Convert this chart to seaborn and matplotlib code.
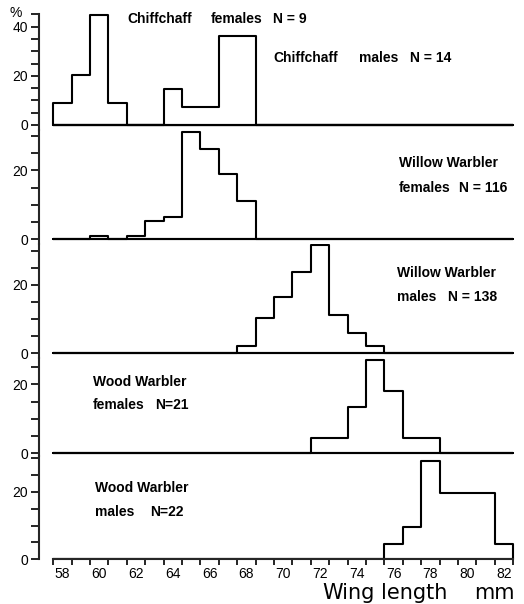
import numpy as np
import pandas as pd
import matplotlib
matplotlib.use("Agg")
import matplotlib.pyplot as plt
import seaborn as sns

# ---------------- data (wing length bin centre, mm ; percentage) ----------------
cc_f_len = [58, 59, 60, 61]
cc_f_pct = [8.8, 20.4, 44.7, 8.8]
cc_m_len = [64, 65, 66, 67, 68]
cc_m_pct = [14.5, 7.4, 7.4, 36.3, 36.3]
ww_f_len = [60, 62, 63, 64, 65, 66, 67, 68]
ww_f_pct = [0.9, 0.9, 5.3, 6.4, 31.1, 26.1, 18.9, 11.0]
ww_m_len = [68, 69, 70, 71, 72, 73, 74, 75]
ww_m_pct = [2.0, 10.2, 16.4, 23.8, 31.6, 11.3, 5.9, 2.0]
wd_f_len = [72, 73, 74, 75, 76, 77, 78]
wd_f_pct = [4.4, 4.4, 13.4, 27.0, 18.0, 4.4, 4.4]
wd_m_len = [76, 77, 78, 79, 80, 81, 82]
wd_m_pct = [4.5, 9.6, 29.0, 19.5, 19.5, 19.5, 4.5]

x_tick_labels = [58, 60, 62, 64, 66, 68, 70, 72, 74, 76, 78, 80, 82]
x_label = ["Wing", "length", "mm"]

panel_series = [
    [(cc_f_len, cc_f_pct), (cc_m_len, cc_m_pct)],
    [(ww_f_len, ww_f_pct)],
    [(ww_m_len, ww_m_pct)],
    [(wd_f_len, wd_f_pct)],
    [(wd_m_len, wd_m_pct)],
]
panel_tick_max = [45, 30, 30, 25, 30]
panel_labels = [[0, 20, 40], [0, 20], [0, 20], [0, 20], [0, 20]]

annotations = [
    ("Chiffchaff", 127, 19), ("females", 211, 19), ("N = 9", 273, 19),
    ("Chiffchaff", 273, 58), ("males", 359, 58), ("N = 14", 410, 58),
    ("Willow Warbler", 399, 163), ("females", 399, 188), ("N = 116", 459, 188),
    ("Willow Warbler", 397, 273), ("males", 397, 297), ("N = 138", 448, 297),
    ("Wood Warbler", 93, 382), ("females", 93, 405), ("N=21", 155, 405),
    ("Wood Warbler", 95, 488), ("males", 95, 512), ("N=22", 150, 512),
]

# ---------------- layout (pixels) ----------------
W, H = 524, 604
# zero line y, px per percent, top y, bottom y
panels_px = [
    (125.0, 2.46, 12.0, 130.0),
    (239.3, 3.45, 130.0, 244.0),
    (353.3, 3.42, 244.0, 358.0),
    (453.3, 3.45, 358.0, 455.5),
    (559.3, 3.38, 455.5, 559.3),
]
left_px, right_px = 39.3, 520.0
x0_px, ppmm = 53.3, 18.4
xmin = 57.5 - (x0_px - left_px) / ppmm
xmax = 57.5 + (right_px - x0_px) / ppmm
edges = [57.5 + k for k in range(26)]

sns.set_theme(style="ticks")
plt.rcParams["font.family"] = ["Liberation Sans", "DejaVu Sans"]
plt.rcParams["axes.linewidth"] = 1.5

fig = plt.figure(figsize=(W / 100, H / 100), dpi=100)
fig.patch.set_facecolor("white")

LW = 1.5
for i, (zero, ppp, top, bot) in enumerate(panels_px):
    ax = fig.add_axes([left_px / W, 1 - bot / H, (right_px - left_px) / W, (bot - top) / H])
    ax.set_facecolor("none")
    for xs, ws in panel_series[i]:
        df = pd.DataFrame({"length": xs, "pct": ws})
        sns.histplot(data=df, x="length", weights="pct", bins=edges, element="step",
                     fill=True, facecolor="white", edgecolor="black", linewidth=LW,
                     alpha=1, ax=ax)
    ylo = -(bot - zero) / ppp
    yhi = (zero - top) / ppp
    ax.set_xlim(xmin, xmax)
    ax.set_ylim(ylo, yhi)
    ax.set_xlabel("")
    ax.set_ylabel("")
    for s in ["top", "right"]:
        ax.spines[s].set_visible(False)
    ax.spines["left"].set_linewidth(LW)
    yt = list(range(0, panel_tick_max[i] + 1, 5))
    ax.set_yticks(yt, labels=[str(t) if t in panel_labels[i] else "" for t in yt])
    ax.tick_params(axis="y", direction="out", length=5.5, width=1.2, pad=2.5,
                   labelsize=10, colors="black")
    if i == 0:
        ax.spines["left"].set_bounds(ylo, panel_tick_max[i])
    if i < 4:
        ax.spines["bottom"].set_visible(False)
        ax.set_xticks([])
        ax.hlines(0, 57.5, 82.5, color="black", linewidth=LW)
    else:
        ax.spines["left"].set_bounds(0, yhi)
        ax.spines["bottom"].set_bounds(57.5, 82.5)
        ax.spines["bottom"].set_linewidth(LW)
        ax.set_xticks(edges, labels=[""] * len(edges))
        ax.set_xticks(x_tick_labels, labels=[str(v) for v in x_tick_labels], minor=True)
        ax.tick_params(axis="x", which="major", direction="out", length=4, width=1.2,
                       colors="black")
        ax.tick_params(axis="x", which="minor", length=0, pad=5.5, labelsize=10,
                       colors="black")

for txt, x, y in annotations:
    fig.text(x / W, 1 - y / H, txt, ha="left", va="center", fontsize=10,
             fontweight="bold", color="black")

fig.text(16 / W, 1 - 13 / H, "%", ha="center", va="center", fontsize=10, color="black")

for txt, x in zip(x_label, [322, 381, 474]):
    fig.text(x / W, 1 - 593 / H, txt, ha="left", va="center", fontsize=15,
             color="black", family=["DejaVu Sans"])

fig.savefig("out.png", dpi=100, facecolor="white")
